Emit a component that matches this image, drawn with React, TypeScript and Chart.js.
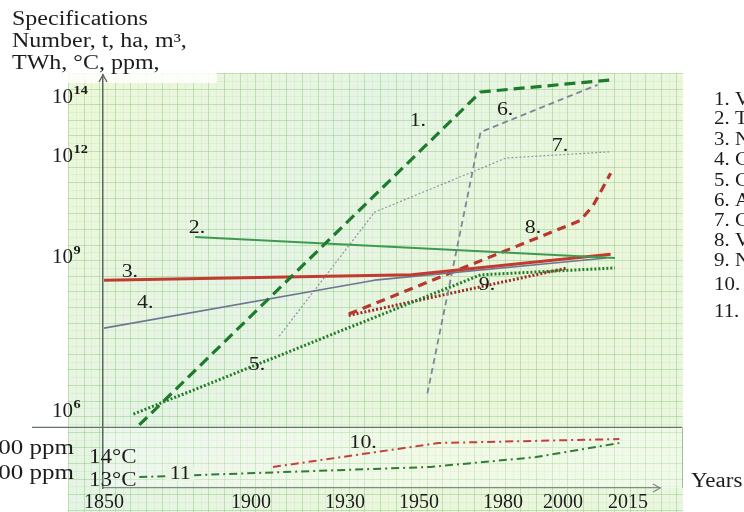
import React, { useEffect, useRef } from 'react';
import { Chart, registerables, LinearScale } from 'chart.js';

// ---------------- data ----------------
const X_TICKS = [1850, 1900, 1930, 1950, 1980, 2000, 2015];
const Y_TICKS = [1e6, 1e9, 1e12, 1e14];
const PPM_TICKS = [400, 300];
const TEMP_TICKS = [14, 13];
const PANEL_FLOOR = 5.0e5;

const TITLE_LINES = ['Specifications', 'Number, t, ha, m³,', 'TWh, °C, ppm,'];
const SERIES_LABELS = ['1. V', '2. T', '3. N', '4. C', '5. C', '6. A', '7. C', '8. V', '9. N', '10.', '11.'];

const S1_YEARS = [1862, 1972, 2011];
const S1_VALUES = [5.6e5, 1.6e14, 4.1e14];
const S2_YEARS = [1881, 2012];
const S2_VALUES = [4.2e9, 1.0e9];
const S3_YEARS = [1850, 1948, 2011];
const S3_VALUES = [3.7e8, 4.7e8, 1.3e9];
const S4_YEARS = [1850, 1938, 2010];
const S4_VALUES = [4.3e7, 3.7e8, 1.0e9];
const S5_YEARS = [1860, 1972, 2012];
const S5_VALUES = [9.1e5, 4.7e8, 6.4e8];
const S6_YEARS = [1953, 1972, 2008];
const S6_VALUES = [2.3e6, 7.0e12, 2.8e14];
const S7_YEARS = [1909, 1938, 1981, 2011];
const S7_VALUES = [3.0e7, 2.3e10, 9.3e11, 1.5e12];
const S8_YEARS = [1931, 2004, 2007, 2011];
const S8_VALUES = [8.1e7, 1.3e10, 3.7e10, 3.3e11];
const S9_YEARS = [1931, 2001];
const S9_VALUES = [7.6e7, 6.4e8];
const S10_YEARS = [1907, 1957, 2013];
const S10_PPM = [328, 424, 440];
const S11_YEARS = [1862, 1954, 1991, 2013];
const S11_TEMP = [13.17, 13.61, 14.04, 14.65];

const NOTE_TEXT = ['1.', '2.', '3.', '4.', '5.', '6.', '7.', '8.', '9.', '10.', '11'];
const NOTE_YEARS = [1949.7, 1881.6, 1858.8, 1864, 1901.9, 1980.7, 1999, 1990, 1974.3, 1934.9, 1875.9];
const NOTE_VALUES = [1.6e13, 7.8e9, 5.3e8, 1.3e8, 8.2e6, 3.9e13, 2.4e12, 7.8e9, 3.0e8, 424, 13.3];
const NOTE_AXES = ['y', 'y', 'y', 'y', 'y', 'y', 'y', 'y', 'y', 'yPpm', 'yTemp'];

// ---------------- styles ----------------
const FONT = '"Liberation Serif", "Times New Roman", serif';
const STYLES = [
  { color: '#1e7b2c', width: 3.2, dash: [11, 6] },
  { color: '#3e9a50', width: 2, dash: [] },
  { color: '#c23b30', width: 3, dash: [] },
  { color: '#6e7693', width: 1.6, dash: [] },
  { color: '#267a2c', width: 3, dash: [2, 2] },
  { color: '#7c8797', width: 1.8, dash: [6, 4] },
  { color: '#8d94a1', width: 1.2, dash: [2, 2] },
  { color: '#b8372e', width: 3.2, dash: [9, 6] },
  { color: '#9b2b24', width: 3, dash: [2, 2] },
  { color: '#c4403a', width: 2, dash: [8, 4, 2, 4] },
  { color: '#2f7d34', width: 2, dash: [8, 4, 2, 4] },
];
const LEGEND_ROWS = [100, 119, 140, 160, 181, 201, 221, 241, 261, 285, 312];

// ---------- piecewise (broken) axis, as in the hand-drawn original ----------
function interp(v: number, a: number[], b: number[]) {
  const n = a.length;
  let i = 0;
  if (v >= a[n - 1]) i = n - 2;
  else if (v > a[0]) { while (i < n - 2 && v > a[i + 1]) i++; }
  return b[i] + ((v - a[i]) * (b[i + 1] - b[i])) / (a[i + 1] - a[i]);
}

class BrokenScale extends LinearScale {
  static id = 'broken';
  getPixelForValue(value: number) {
    const o: any = this.options;
    let v = value;
    if (o.logValues) v = value > 0 ? Math.log10(value) : o.breakValues[0] - 3;
    return this.getPixelForDecimal(interp(v, o.breakValues, o.breakFractions));
  }
  getValueForPixel(pixel: number) {
    const o: any = this.options;
    const v = interp(this.getDecimalForPixel(pixel), o.breakFractions, o.breakValues);
    return o.logValues ? Math.pow(10, v) : v;
  }
}

Chart.register(...registerables, BrokenScale);

function drawText(ctx: CanvasRenderingContext2D, s: string, x: number, y: number, size: number,
  align: CanvasTextAlign = 'left', opts: any = {}) {
  const { weight = 'normal', sx = 1.15, color = '#1c1c1c', baseline = 'middle' } = opts;
  ctx.save();
  ctx.font = `${weight} ${size}px ${FONT}`;
  ctx.fillStyle = color;
  ctx.textAlign = align;
  ctx.textBaseline = baseline;
  ctx.translate(x, y);
  ctx.scale(sx, 1);
  ctx.fillText(s, 0, 0);
  const w = ctx.measureText(s).width * sx;
  ctx.restore();
  return w;
}

const paperPlugin = {
  id: 'paper',
  beforeDraw(chart: any) {
    const { ctx, chartArea: ca } = chart;
    const x0 = 68, y0 = 73, x1 = 683, y1 = 512;
    ctx.save();
    ctx.fillStyle = '#ffffff';
    ctx.fillRect(0, 0, chart.width, chart.height);
    const g = ctx.createLinearGradient(x0, y0, x1, y1);
    g.addColorStop(0, '#eef7d8');
    g.addColorStop(0.35, '#e6f4e6');
    g.addColorStop(0.7, '#ecf6dc');
    g.addColorStop(1, '#eaf6e0');
    ctx.fillStyle = g;
    ctx.fillRect(x0, y0, x1 - x0, y1 - y0);
    const step = 15.6;
    ctx.lineWidth = 1;
    ctx.strokeStyle = 'rgba(175,222,160,0.22)';
    ctx.beginPath();
    for (let x = x0 + step / 2; x < x1; x += step) { ctx.moveTo(Math.round(x) + 0.5, y0); ctx.lineTo(Math.round(x) + 0.5, y1); }
    for (let y = y0 + step / 2; y < y1; y += step) { ctx.moveTo(x0, Math.round(y) + 0.5); ctx.lineTo(x1, Math.round(y) + 0.5); }
    ctx.stroke();
    ctx.strokeStyle = 'rgba(140,205,125,0.5)';
    ctx.beginPath();
    for (let x = x0; x <= x1; x += step) { ctx.moveTo(Math.round(x) + 0.5, y0); ctx.lineTo(Math.round(x) + 0.5, y1); }
    for (let y = y0; y <= y1; y += step) { ctx.moveTo(x0, Math.round(y) + 0.5); ctx.lineTo(x1, Math.round(y) + 0.5); }
    ctx.stroke();
    // white label strip at the top-left of the paper
    ctx.fillStyle = 'rgba(255,255,255,0.85)';
    ctx.fillRect(x0, y0, 149, 10);
    // lower panel (ppm / °C)
    const ySep = chart.scales.y.getPixelForValue(PANEL_FLOOR);
    ctx.fillStyle = 'rgba(255,255,255,0.3)';
    ctx.fillRect(ca.left + 1, ySep, 682 - ca.left, ca.bottom - ySep);
    ctx.strokeStyle = 'rgba(120,170,120,0.7)';
    ctx.beginPath();
    ctx.moveTo(682.5, ySep); ctx.lineTo(682.5, ca.bottom);
    ctx.stroke();
    ctx.strokeStyle = '#66756a';
    ctx.lineWidth = 1.3;
    ctx.beginPath();
    ctx.moveTo(32, ySep); ctx.lineTo(682, ySep);
    ctx.stroke();
    ctx.restore();
  },
};

const textPlugin = {
  id: 'texts',
  afterDraw(chart: any) {
    const { ctx, chartArea: ca } = chart;
    const xs = chart.scales.x, ys = chart.scales.y;
    // axis arrows
    ctx.save();
    ctx.lineWidth = 1.4;
    ctx.strokeStyle = '#5d665d';
    ctx.beginPath();
    ctx.moveTo(ca.left - 4, ca.top + 7); ctx.lineTo(ca.left, ca.top); ctx.lineTo(ca.left + 4, ca.top + 7);
    ctx.stroke();
    ctx.strokeStyle = '#7f8f7f';
    ctx.beginPath();
    ctx.moveTo(ca.right - 7, ca.bottom - 4); ctx.lineTo(ca.right, ca.bottom); ctx.lineTo(ca.right - 7, ca.bottom + 4);
    ctx.stroke();
    ctx.restore();

    // heading
    TITLE_LINES.forEach((s, i) => drawText(ctx, s, 12, 25 + 22 * i, 20, 'left', { baseline: 'alphabetic', sx: 1.2 }));

    // y tick labels 10^n
    Y_TICKS.forEach((v) => {
      const y = ys.getPixelForValue(v);
      const w = drawText(ctx, '10', 52, y, 20, 'left', { sx: 1.05 });
      drawText(ctx, String(Math.round(Math.log10(v))), 52 + w + 0.5, y - 7, 13, 'left', { weight: 'bold', sx: 1.1 });
    });
    // lower panel labels
    PPM_TICKS.forEach((v) => drawText(ctx, `${v} ppm`, 74, chart.scales.yPpm.getPixelForValue(v), 20, 'right', { sx: 1.25 }));
    TEMP_TICKS.forEach((v) => drawText(ctx, `${v}°C`, 89, chart.scales.yTemp.getPixelForValue(v), 20, 'left'));

    // series number notes
    NOTE_TEXT.forEach((s, i) => {
      const x = xs.getPixelForValue(NOTE_YEARS[i]);
      const y = chart.scales[NOTE_AXES[i]].getPixelForValue(NOTE_VALUES[i]);
      if (s === '11') {
        ctx.save();
        ctx.fillStyle = '#e9f5e2';
        ctx.fillRect(x - 14, y - 8, 28, 15);
        ctx.restore();
      }
      drawText(ctx, s, x, y, 19, 'center');
    });

    // right-hand legend (cut by the picture edge)
    chart.data.datasets.forEach((d: any, i: number) => drawText(ctx, d.label, 714, LEGEND_ROWS[i], 19, 'left', { sx: 1.1 }));

    drawText(ctx, 'Years', 691, 482, 20, 'left');
  },
};

const SERIES: [number[], number[], string][] = [
  [S1_YEARS, S1_VALUES, 'y'],
  [S2_YEARS, S2_VALUES, 'y'],
  [S3_YEARS, S3_VALUES, 'y'],
  [S4_YEARS, S4_VALUES, 'y'],
  [S5_YEARS, S5_VALUES, 'y'],
  [S6_YEARS, S6_VALUES, 'y'],
  [S7_YEARS, S7_VALUES, 'y'],
  [S8_YEARS, S8_VALUES, 'y'],
  [S9_YEARS, S9_VALUES, 'y'],
  [S10_YEARS, S10_PPM, 'yPpm'],
  [S11_YEARS, S11_TEMP, 'yTemp'],
];

export default function App() {
  const ref = useRef<HTMLCanvasElement>(null);
  useEffect(() => {
    const canvas = ref.current;
    if (!canvas) return;
    const datasets = SERIES.map(([xv, yv, axis], i) => ({
      label: SERIES_LABELS[i],
      data: xv.map((x, j) => ({ x, y: yv[j] })),
      xAxisID: 'x',
      yAxisID: axis,
      borderColor: STYLES[i].color,
      borderWidth: STYLES[i].width,
      borderDash: STYLES[i].dash,
      borderCapStyle: 'butt',
      borderJoinStyle: 'round',
      pointRadius: 0,
      fill: false,
      tension: 0,
    }));
    const chart = new Chart(canvas, {
      type: 'line',
      data: { datasets } as any,
      options: {
        responsive: false,
        animation: false,
        devicePixelRatio: 1,
        events: [],
        layout: { padding: { top: 75, right: 84, left: 0, bottom: 0 } },
        plugins: { legend: { display: false }, tooltip: { enabled: false }, title: { display: false } },
        scales: {
          x: {
            type: 'broken',
            position: 'bottom',
            min: 1849,
            max: 2030,
            breakValues: X_TICKS,
            breakFractions: [0.0018, 0.2657, 0.4345, 0.5673, 0.7181, 0.8259, 0.9425],
            afterBuildTicks: (s: any) => { s.ticks = X_TICKS.map((v) => ({ value: v })); },
            afterFit: (s: any) => { s.height = 24; },
            grid: { display: false, drawTicks: false },
            border: { display: true, color: '#7f8f7f', width: 1.3 },
            ticks: {
              autoSkip: false, maxRotation: 0, padding: 3, color: '#1c1c1c',
              font: { family: FONT, size: 20 },
              callback: (v: any) => String(v),
            },
          },
          y: {
            type: 'broken',
            position: 'left',
            min: 1e4,
            max: 1e15,
            logValues: true,
            breakValues: [6, 9, 12, 14],
            breakFractions: [0.184, 0.5569, 0.8015, 0.9443],
            afterBuildTicks: (s: any) => { s.ticks = Y_TICKS.map((v) => ({ value: v })); },
            afterFit: (s: any) => { s.width = 103; },
            grid: { display: false, drawTicks: false },
            border: { display: true, color: '#5d665d', width: 1.5 },
            ticks: { display: false },
          },
          yPpm: {
            type: 'broken',
            position: 'left',
            display: false,
            min: 200,
            max: 2000,
            breakValues: [300, 400],
            breakFractions: [0.0339, 0.0944],
          },
          yTemp: {
            type: 'broken',
            position: 'left',
            display: false,
            min: 12,
            max: 30,
            breakValues: [13, 14],
            breakFractions: [0.0169, 0.0726],
          },
        } as any,
      },
      plugins: [paperPlugin, textPlugin],
    } as any);
    return () => chart.destroy();
  }, []);
  return (
    <div style={{ position: 'fixed', left: 0, top: 0, width: 744, height: 512, background: '#fff' }}>
      <canvas ref={ref} width={744} height={512} style={{ display: 'block', width: 744, height: 512 }} />
    </div>
  );
}
